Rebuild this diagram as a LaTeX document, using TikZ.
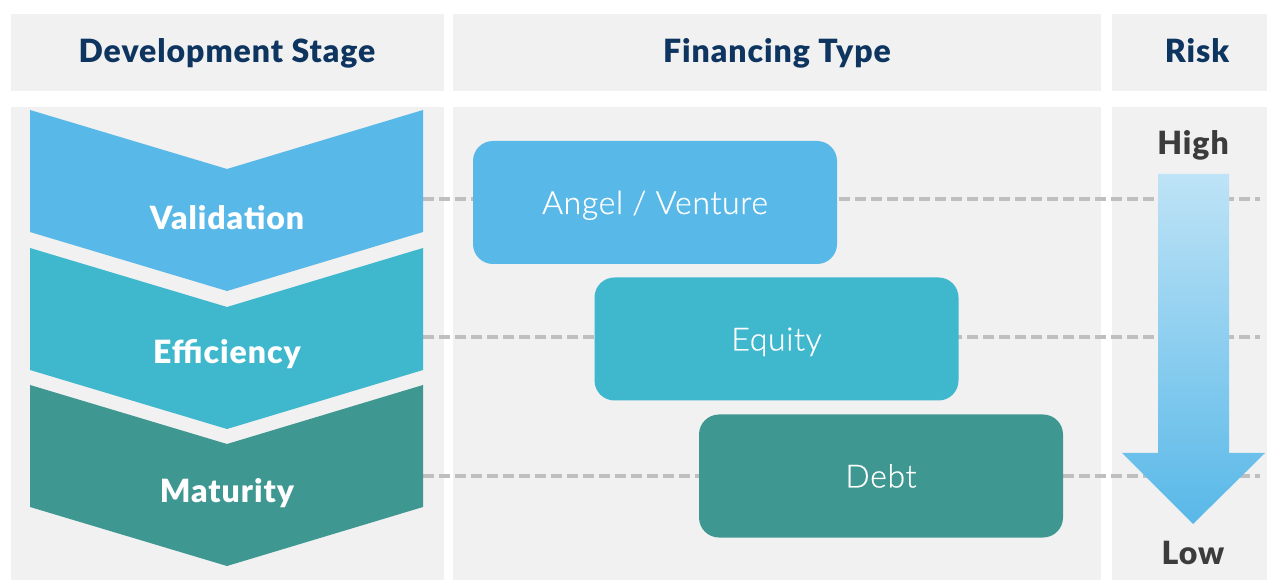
\documentclass[tikz,border=0pt]{standalone}
\usepackage{fontspec}
\setmainfont{Lato}
\newfontfamily\lightfont{Lato Light}[LetterSpace=2, FakeBold=0.6]
\newfontfamily\heavyfont{Lato Black}[LetterSpace=3]

\definecolor{panelgray}{HTML}{F1F1F1}
\definecolor{navy}{HTML}{0E3560}
\definecolor{darkgray}{HTML}{3C3C3C}
\definecolor{skyblue}{HTML}{58B8E8}
\definecolor{teal}{HTML}{3FB8CE}
\definecolor{darkteal}{HTML}{3F9792}
\definecolor{dashgray}{HTML}{BFBFBF}
\definecolor{paleblue}{HTML}{BEE3F6}

\begin{document}
\begin{tikzpicture}[
    x=0.75pt, y=-0.75pt,
    panel/.style={fill=panelgray, draw=none},
    head/.style={inner sep=0pt, text height=17.25pt, text depth=0pt, text=navy, font=\heavyfont\fontsize{24}{28}\selectfont},
    stagelbl/.style={inner sep=0pt, text height=17.25pt, text depth=0pt, text=white, font=\heavyfont\fontsize{24}{28}\selectfont},
    risklbl/.style={inner sep=0pt, text height=17.25pt, text depth=0pt, text=darkgray, font=\heavyfont\fontsize{24}{28}\selectfont},
    fintype/.style={rectangle, rounded corners=15pt, draw=none, minimum width=273pt, minimum height=92.25pt, inner sep=0pt, text height=17.25pt, text depth=0pt, text=white, font=\lightfont\fontsize{24}{28}\selectfont},
    guide/.style={draw=dashgray, line width=2.6pt, dash pattern=on 8.25pt off 3.75pt}
]
\useasboundingbox (0,0) rectangle (1267,580);

% Panels
\fill[panel] (11,14) rectangle (444,91);
\fill[panel] (453,14) rectangle (1101,91);
\fill[panel] (1112,14) rectangle (1267,91);
\fill[panel] (11,107) rectangle (444,580);
\fill[panel] (453,107) rectangle (1101,580);
\fill[panel] (1112,107) rectangle (1267,580);

% Headers
\node[head] (devhead) at (227,51.5) {Development Stage};
\node[head] (finhead) at (777,51.5) {Financing Type};
\node[head] (riskhead) at (1197,51.5) {Risk};

% Guide lines
\coordinate (valend) at (423,199);
\coordinate (effend) at (423,337);
\coordinate (matend) at (423,476);
\coordinate (valrisk) at (1260,199);
\coordinate (effrisk) at (1260,337);
\coordinate (matrisk) at (1260,476);
\draw[guide] (valend) -- (valrisk);
\draw[guide] (effend) -- (effrisk);
\draw[guide] (matend) -- (matrisk);

% Stage chevrons
\foreach \t/\c in {110/skyblue, 248/teal, 385/darkteal}
    \fill[\c] (30,\t) -- (227,\t+59) -- (423,\t) -- (423,\t+122) -- (227,\t+181) -- (30,\t+122) -- cycle;
\node[stagelbl] (validation) at (227,218) {Validation};
\node[stagelbl] (efficiency) at (227,352) {Efficiency};
\node[stagelbl] (maturity) at (227,491.5) {Maturity};

% Financing boxes
\node[fintype, fill=skyblue] (angel) at (655,202.5) {Angel / Venture};
\node[fintype, fill=teal] (equity) at (776.5,339) {Equity};
\node[fintype, fill=darkteal] (debt) at (881,476) {Debt};

% Risk arrow
\shade[top color=paleblue, bottom color=skyblue]
    (1158,174) -- (1229,174) -- (1229,453) -- (1265,453) -- (1193,524) -- (1122,453) -- (1158,453) -- cycle;
\node[risklbl] (high) at (1193,143) {High};
\node[risklbl] (low) at (1193,553) {Low};

\end{tikzpicture}
\end{document}
